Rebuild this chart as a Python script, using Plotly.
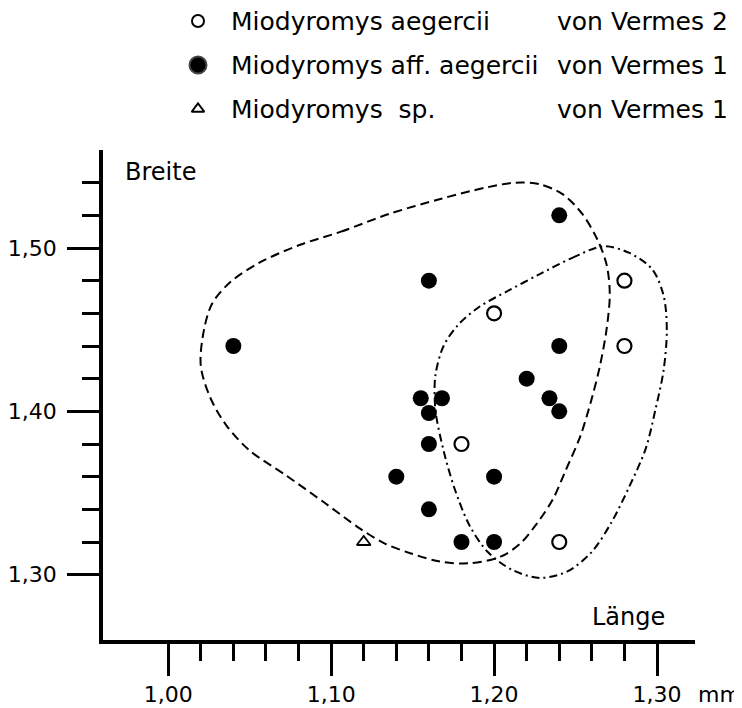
import plotly.graph_objects as go

# ---------------- data ----------------
# Miodyromys aegercii, von Vermes 2 (open circles)
open_x = [1.20, 1.28, 1.28, 1.18, 1.24]
open_y = [1.46, 1.48, 1.44, 1.38, 1.32]

# Miodyromys aff. aegercii, von Vermes 1 (filled circles)
filled_x = [1.04, 1.16, 1.24, 1.24, 1.22, 1.234, 1.24, 1.155, 1.168, 1.16,
            1.16, 1.14, 1.20, 1.16, 1.18, 1.20]
filled_y = [1.44, 1.48, 1.52, 1.44, 1.42, 1.408, 1.40, 1.408, 1.408, 1.399,
            1.38, 1.36, 1.36, 1.34, 1.32, 1.32]

# Miodyromys sp., von Vermes 1 (open triangle)
tri_x = [1.12]
tri_y = [1.32]

# envelope of Vermes 1 (dashed outline)
env1_x = [1.081, 1.106, 1.136, 1.167, 1.195, 1.213, 1.228, 1.242, 1.254, 1.263,
          1.269, 1.271, 1.269, 1.265, 1.260, 1.253, 1.244, 1.236, 1.226, 1.216,
          1.204, 1.185, 1.167, 1.149, 1.133, 1.118, 1.096, 1.072, 1.050, 1.036,
          1.026, 1.020, 1.022, 1.027, 1.038, 1.056]
env1_y = [1.502, 1.510, 1.521, 1.530, 1.537, 1.540, 1.539, 1.533, 1.521, 1.506,
          1.490, 1.472, 1.450, 1.428, 1.408, 1.385, 1.364, 1.346, 1.331, 1.319,
          1.311, 1.307, 1.308, 1.313, 1.319, 1.328, 1.344, 1.361, 1.376, 1.391,
          1.408, 1.428, 1.450, 1.466, 1.479, 1.491]

# envelope of Vermes 2 (dash-dot outline)
env2_x = [1.228, 1.248, 1.267, 1.283, 1.297, 1.304, 1.306, 1.304, 1.299, 1.293,
          1.283, 1.272, 1.260, 1.245, 1.228, 1.211, 1.196, 1.185, 1.176, 1.169,
          1.164, 1.164, 1.169, 1.178, 1.191, 1.209]
env2_y = [1.484, 1.494, 1.501, 1.497, 1.487, 1.471, 1.450, 1.425, 1.401, 1.377,
          1.354, 1.332, 1.314, 1.302, 1.298, 1.303, 1.314, 1.330, 1.352, 1.376,
          1.401, 1.422, 1.440, 1.453, 1.464, 1.474]

# axes ticks
x_tickvals = [1.00, 1.10, 1.20, 1.30]
x_ticktext = ["1,00", "1,10", "1,20", "1,30"]
x_minorvals = [1.02, 1.04, 1.06, 1.08, 1.12, 1.14, 1.16, 1.18,
               1.22, 1.24, 1.26, 1.28]
y_tickvals = [1.30, 1.40, 1.50]
y_ticktext = ["1,30", "1,40", "1,50"]
y_minorvals = [1.32, 1.34, 1.36, 1.38, 1.42, 1.44, 1.46, 1.48, 1.52, 1.54]

x_title = "Länge"
y_title = "Breite"
unit = "mm"

legend_names = ["Miodyromys aegercii", "Miodyromys aff. aegercii",
                "Miodyromys\u00a0 sp."]
legend_sources = ["von Vermes 2", "von Vermes 1", "von Vermes 1"]

# ---------------- layout constants ----------------
OFF = 8                      # the page body has an 8px margin
W, H = 742 - OFF, 708 - OFF  # figure size so that it fits the window
# plot box, in window pixels
PL, PR, PT, PB = 103, 695, 150, 640
FONT = "DejaVu Sans"

fig = go.Figure()

def close(a):
    return a + a[:1]

fig.add_trace(go.Scatter(
    x=close(env1_x), y=close(env1_y), mode="lines",
    line=dict(color="black", width=2, dash="9px,5px", shape="spline", smoothing=0.9),
    hoverinfo="skip", showlegend=False))
fig.add_trace(go.Scatter(
    x=close(env2_x), y=close(env2_y), mode="lines",
    line=dict(color="black", width=2, dash="8px,4px,2px,4px", shape="spline", smoothing=0.9),
    hoverinfo="skip", showlegend=False))

fig.add_trace(go.Scatter(
    x=filled_x, y=filled_y, mode="markers", name="Miodyromys aff. aegercii",
    marker=dict(symbol="circle", size=16, color="black"), showlegend=False))
fig.add_trace(go.Scatter(
    x=open_x, y=open_y, mode="markers", name="Miodyromys aegercii",
    marker=dict(symbol="circle-open", size=14, color="black", line=dict(width=2.2)),
    showlegend=False))
fig.add_trace(go.Scatter(
    x=tri_x, y=tri_y, mode="markers", name="Miodyromys sp.",
    marker=dict(symbol="triangle-up-open", size=12, color="black", line=dict(width=1.8)),
    showlegend=False))

# legend glyphs drawn on a full-figure pixel-coordinate axis pair
row_y = [21, 65, 109]
sym_x = 198
legend_symbols = ["circle-open", "circle", "triangle-up-open"]
legend_sizes = [12, 17, 11]
for sy, sz, yy in zip(legend_symbols, legend_sizes, row_y):
    fig.add_trace(go.Scatter(
        x=[sym_x], y=[yy], xaxis="x2", yaxis="y2", mode="markers",
        marker=dict(symbol=sy, size=sz, color="black", line=dict(width=2)),
        hoverinfo="skip", showlegend=False))

def txt(x, y, s, size=25):
    return dict(x=x, y=y, xref="x2", yref="y2", text=s, showarrow=False,
                xanchor="left", yanchor="middle",
                font=dict(family=FONT, size=size, color="black"))

annotations = []
for name, src, yy in zip(legend_names, legend_sources, row_y):
    annotations.append(txt(229, yy, name))
    annotations.append(txt(555, yy, src))
annotations.append(txt(123, 172, y_title, 24))
annotations.append(txt(590, 617, x_title, 24))
annotations.append(txt(696, 694, unit, 22))

axis_common = dict(showline=True, linewidth=3.5, linecolor="black",
                   ticks="outside", ticklen=32, tickwidth=2.5, tickcolor="black",
                   showgrid=False, zeroline=False, fixedrange=True, automargin=False,
                   tickfont=dict(family=FONT, size=22, color="black"))

fig.update_layout(
    width=W, height=H,
    margin=dict(l=0, r=0, t=0, b=0, pad=0, autoexpand=False),
    paper_bgcolor="white", plot_bgcolor="rgba(0,0,0,0)",
    showlegend=False,
    xaxis=dict(range=[0.96, 1.3233],
               domain=[(PL - OFF) / W, (PR - OFF) / W], anchor="y",
               tickmode="array", tickvals=x_tickvals, ticktext=x_ticktext,
               minor=dict(tickmode="array", tickvals=x_minorvals, ticks="outside",
                          ticklen=17, tickwidth=2.5, tickcolor="black"),
               **axis_common),
    yaxis=dict(range=[1.26, 1.56],
               domain=[1 - (PB - OFF) / H, 1 - (PT - OFF) / H], anchor="x",
               tickmode="array", tickvals=y_tickvals, ticktext=y_ticktext,
               ticklabelstandoff=6,
               minor=dict(tickmode="array", tickvals=y_minorvals, ticks="outside",
                          ticklen=17, tickwidth=2.5, tickcolor="black"),
               **axis_common),
    # pixel axes expressed in window coordinates
    xaxis2=dict(range=[OFF, W + OFF], domain=[0, 1], anchor="y2", visible=False,
                fixedrange=True, automargin=False),
    yaxis2=dict(range=[H + OFF, OFF], domain=[0, 1], anchor="x2", visible=False,
                fixedrange=True, automargin=False),
    annotations=annotations,
)

fig.write_html("out.html")
